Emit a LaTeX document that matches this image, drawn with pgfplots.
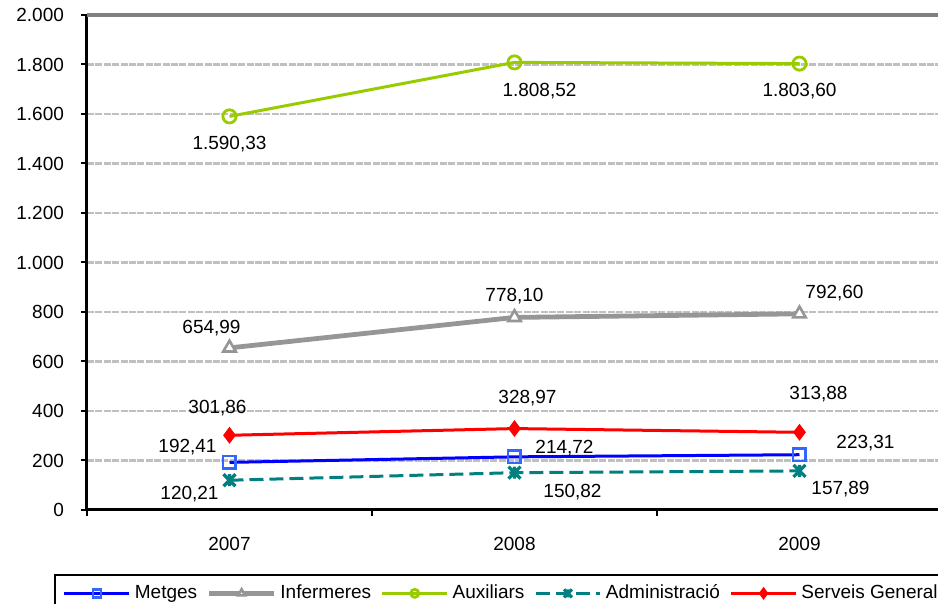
\documentclass[border=0pt]{standalone}
\usepackage{pgfplots}
\usepackage{pgfplotstable}
\pgfplotsset{compat=1.18}
\usepackage{fontspec}
\setmainfont{Liberation Sans}
\definecolor{cMet}{RGB}{0,0,255}
\definecolor{cMetM}{RGB}{51,102,255}
\definecolor{cInf}{RGB}{150,150,150}
\definecolor{cAux}{RGB}{153,204,0}
\definecolor{cAdm}{RGB}{0,128,128}
\definecolor{cSer}{RGB}{255,0,0}
\definecolor{cGrid}{RGB}{192,192,192}
\pgfdeclareplotmark{xstar}{%
  \pgfpathmoveto{\pgfqpoint{-\pgfplotmarksize}{-\pgfplotmarksize}}%
  \pgfpathlineto{\pgfqpoint{\pgfplotmarksize}{\pgfplotmarksize}}%
  \pgfpathmoveto{\pgfqpoint{-\pgfplotmarksize}{\pgfplotmarksize}}%
  \pgfpathlineto{\pgfqpoint{\pgfplotmarksize}{-\pgfplotmarksize}}%
  \pgfpathmoveto{\pgfqpoint{0pt}{-\pgfplotmarksize}}%
  \pgfpathlineto{\pgfqpoint{0pt}{\pgfplotmarksize}}%
  \pgfusepathqstroke}
\pgfplotstableread{
x y dx dy
0 192.41 -21 7.5
1 214.72 25 4.5
2 223.31 33 6
}\tMet
\pgfplotstableread{
x y dx dy
0 654.99 -9 10
1 778.10 0 10.5
2 792.60 17.5 10.5
}\tInf
\pgfplotstableread{
x y dx dy
0 1590.33 0 -14
1 1808.52 12.5 -14.5
2 1803.60 0 -13.5
}\tAux
\pgfplotstableread{
x y dx dy
0 120.21 -20 -7
1 150.82 29 -9.5
2 157.89 20.5 -9
}\tAdm
\pgfplotstableread{
x y dx dy
0 301.86 -6 13.5
1 328.97 6.5 15
2 313.88 9.5 19
}\tSer
\newcommand{\fnt}{\fontsize{9.5pt}{11pt}\selectfont}
\begin{document}
\begin{tikzpicture}
\path[use as bounding box, clip] (-43.5pt,-47pt) rectangle (425.5pt,255pt);
\begin{axis}[
  scale only axis,
  width=427.5pt, height=247.5pt,
  xmin=-0.5, xmax=2.5,
  ymin=0, ymax=2000,
  axis x line*=bottom, axis y line*=left,
  axis line style={-, black, line width=1.5pt},
  xtick={0,1,2}, xticklabels={2007,2008,2009},
  minor xtick={-0.5,0.5,1.5,2.5},
  major x tick style={draw=none},
  minor x tick style={black, line width=1pt},
  ytick={0,200,...,2000},
  y tick style={black, line width=1pt},
  tick align=outside,
  major tick length=3pt, minor tick length=3pt,
  ymajorgrids,
  major grid style={cGrid, line width=1.3pt, dash pattern=on 3.5pt off 0.7pt},
  ticklabel style={font=\fnt},
  xticklabel style={yshift=-7pt},
  yticklabel style={xshift=-5pt},
  /pgf/number format/assume math mode=true,
  y tick label style={/pgf/number format/.cd, use comma, 1000 sep={.}},
  legend columns=5,
  legend style={at={(axis description cs:-0.0386,-0.129)}, anchor=north west,
    draw=black, line width=1pt, font=\fnt, inner xsep=4pt, inner ysep=3pt,
    /tikz/every even column/.append style={column sep=2.8pt}},
  legend image code/.code={\draw[mark repeat=2,mark phase=2,mark size=2pt] plot coordinates {(0cm,0cm) (0.57cm,0cm) (1.14cm,0cm)};},
  point meta=y,
  nodes near coords={\pgfmathprintnumber[fixed,fixed zerofill,precision=2,use comma,1000 sep={.}]{\pgfplotspointmeta}},
  visualization depends on={\thisrow{dx}\as\dx},
  visualization depends on={\thisrow{dy}\as\dy},
  nodes near coords style={font=\fnt, text=black, anchor=center, inner sep=0pt, xshift=\dx pt, yshift=\dy pt},
  after end axis/.code={\draw[gray, line width=1.8pt] (rel axis cs:0,1) -- (rel axis cs:1,1);},
]
\addplot[cMet, line width=1.5pt, mark=square, mark size=3.1pt, mark options={cMetM, fill=white, line width=1.2pt, solid}] table[x=x,y=y] {\tMet};
\addlegendentry{Metges}
\addplot[cInf, line width=2.4pt, mark=triangle*, mark size=3.6pt, mark options={cInf, fill=white, line width=1.3pt, solid}] table[x=x,y=y] {\tInf};
\addlegendentry{Infermeres}
\addplot[cAux, line width=1.5pt, mark=o, mark size=3.3pt, mark options={cAux, fill=white, line width=1.4pt, solid}] table[x=x,y=y] {\tAux};
\addlegendentry{Auxiliars}
\addplot[cAdm, line width=1.5pt, dash pattern=on 7pt off 3pt, mark=xstar, mark size=3pt, mark options={cAdm, line width=1.6pt, solid}] table[x=x,y=y] {\tAdm};
\addlegendentry{Administració}
\addplot[cSer, line width=1.5pt, mark=diamond*, mark size=3pt, mark options={cSer, fill=cSer, solid}] table[x=x,y=y] {\tSer};
\addlegendentry{Serveis Generals}
\end{axis}
\end{tikzpicture}
\end{document}
